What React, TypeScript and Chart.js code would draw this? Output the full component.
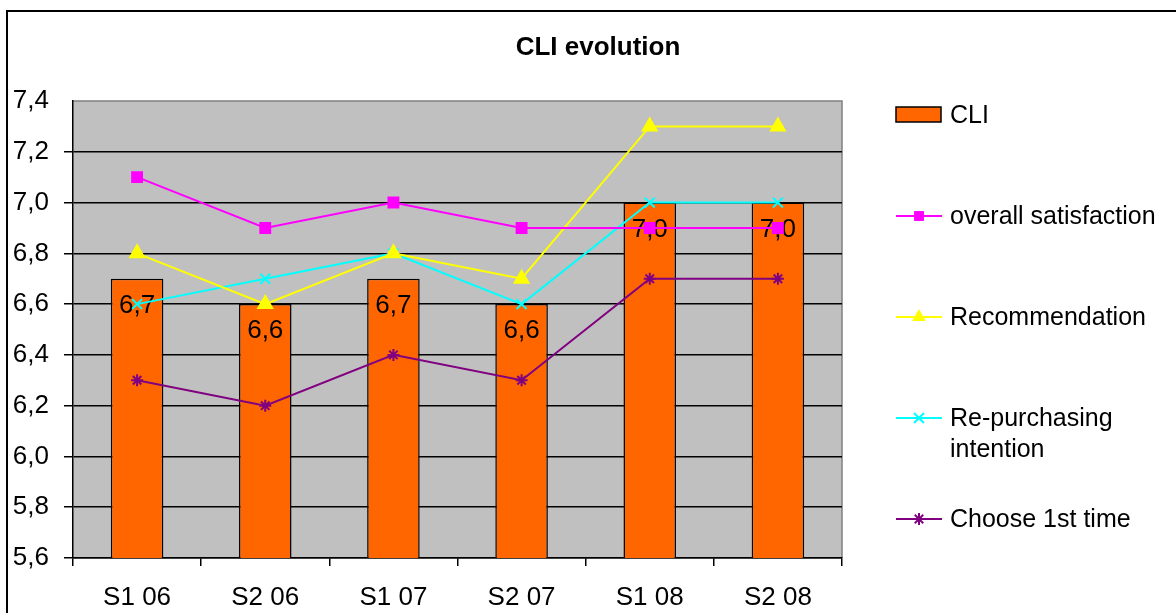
import React, { useEffect, useRef } from "react";
import { Chart, registerables } from "chart.js";

Chart.register(...registerables);

const chartTitle = "CLI evolution";
const categories = ["S1 06", "S2 06", "S1 07", "S2 07", "S1 08", "S2 08"];
const seriesNames = ["CLI", "overall satisfaction", "Recommendation", "Re-purchasing intention", "Choose 1st time"];
const cliValues = [6.7, 6.6, 6.7, 6.6, 7.0, 7.0];
const overallSatisfaction = [7.1, 6.9, 7.0, 6.9, 6.9, 6.9];
const recommendation = [6.8, 6.6, 6.8, 6.7, 7.3, 7.3];
const repurchasingIntention = [6.6, 6.7, 6.8, 6.6, 7.0, 7.0];
const chooseFirstTime = [6.3, 6.2, 6.4, 6.3, 6.7, 6.7];
const yMin = 5.6;
const yMax = 7.4;
const yStep = 0.2;

const FONT = "'Liberation Sans', Arial, sans-serif";
const fmt = (v: number) => v.toFixed(1).replace(".", ",");

function drawMarker(ctx: CanvasRenderingContext2D, style: string, x: number, y: number, r: number, color: string) {
  ctx.save();
  ctx.fillStyle = color;
  ctx.strokeStyle = color;
  ctx.lineWidth = 2;
  ctx.beginPath();
  if (style === "rect") {
    const s = r * Math.SQRT1_2;
    ctx.rect(x - s, y - s, 2 * s, 2 * s);
    ctx.fill();
  } else if (style === "triangle") {
    ctx.moveTo(x, y - r);
    ctx.lineTo(x + r * 0.866, y + r * 0.5);
    ctx.lineTo(x - r * 0.866, y + r * 0.5);
    ctx.closePath();
    ctx.fill();
  } else if (style === "crossRot") {
    const s = r * Math.SQRT1_2;
    ctx.moveTo(x - s, y - s);
    ctx.lineTo(x + s, y + s);
    ctx.moveTo(x - s, y + s);
    ctx.lineTo(x + s, y - s);
    ctx.stroke();
  } else if (style === "star") {
    const s = r * Math.SQRT1_2;
    ctx.moveTo(x - s, y - s);
    ctx.lineTo(x + s, y + s);
    ctx.moveTo(x - s, y + s);
    ctx.lineTo(x + s, y - s);
    ctx.moveTo(x, y - r);
    ctx.lineTo(x, y + r);
    ctx.moveTo(x - r, y);
    ctx.lineTo(x + r, y);
    ctx.stroke();
  }
  ctx.restore();
}

function wrapText(ctx: CanvasRenderingContext2D, text: string, maxW: number): string[] {
  const words = text.split(" ");
  const lines: string[] = [];
  let cur = "";
  for (const w of words) {
    const t = cur ? cur + " " + w : w;
    if (ctx.measureText(t).width > maxW && cur) {
      lines.push(cur);
      cur = w;
    } else cur = t;
  }
  if (cur) lines.push(cur);
  return lines;
}

const decorPlugin = {
  id: "decor",
  beforeDraw(chart: any) {
    const { ctx, chartArea: a, width, height } = chart;
    ctx.save();
    ctx.fillStyle = "#ffffff";
    ctx.fillRect(0, 0, width, height);
    ctx.fillStyle = "#C0C0C0";
    ctx.fillRect(a.left, a.top, a.right - a.left, a.bottom - a.top);
    ctx.strokeStyle = "#808080";
    ctx.lineWidth = 1.5;
    ctx.beginPath();
    ctx.moveTo(a.left, a.top);
    ctx.lineTo(a.right, a.top);
    ctx.lineTo(a.right, a.bottom);
    ctx.stroke();
    ctx.strokeStyle = "#000000";
    ctx.lineWidth = 2;
    ctx.strokeRect(7, 11, 1200, 700);
    ctx.restore();
  },
  afterDatasetDraw(chart: any, args: any) {
    if (args.index !== 0) return;
    const { ctx } = chart;
    const meta = chart.getDatasetMeta(0);
    ctx.save();
    ctx.font = `26px ${FONT}`;
    ctx.fillStyle = "#000";
    ctx.textAlign = "center";
    ctx.textBaseline = "middle";
    meta.data.forEach((bar: any, i: number) => {
      ctx.fillText(fmt(chart.data.datasets[0].data[i]), bar.x, bar.y + 27);
    });
    ctx.restore();
  },
  afterDraw(chart: any) {
    const { ctx } = chart;
    ctx.save();
    ctx.fillStyle = "#000";
    ctx.font = `bold 26px ${FONT}`;
    ctx.textAlign = "center";
    ctx.textBaseline = "middle";
    ctx.fillText(chartTitle, 598, 48);

    ctx.font = `25px ${FONT}`;
    ctx.textAlign = "left";
    chart.data.datasets.forEach((ds: any, i: number) => {
      const y = 115 + i * 101;
      if (ds.type === "bar" || !ds.type) {
        ctx.fillStyle = ds.backgroundColor;
        ctx.fillRect(896, y - 8, 45, 15);
        ctx.strokeStyle = "#000";
        ctx.lineWidth = 1.5;
        ctx.strokeRect(896, y - 8, 45, 15);
      } else {
        ctx.strokeStyle = ds.borderColor;
        ctx.lineWidth = 2;
        ctx.beginPath();
        ctx.moveTo(896, y);
        ctx.lineTo(942, y);
        ctx.stroke();
        drawMarker(ctx, ds.pointStyle, 919, y, ds.pointRadius, ds.borderColor);
      }
      ctx.fillStyle = "#000";
      const lines = wrapText(ctx, ds.label, 215);
      lines.forEach((ln, k) => ctx.fillText(ln, 950, y + 1 + k * 31));
    });
    ctx.restore();
  },
};

export default function App() {
  const ref = useRef<HTMLCanvasElement>(null);
  useEffect(() => {
    document.body.style.margin = "0";
    const lineDs = (label: string, data: number[], color: string, pointStyle: string, r: number) => ({
      type: "line" as const,
      label,
      data,
      borderColor: color,
      backgroundColor: color,
      borderWidth: 2,
      pointStyle,
      pointRadius: r,
      pointBorderWidth: 2,
      pointBorderColor: color,
      pointBackgroundColor: color,
      fill: false,
      tension: 0,
      order: 0,
    });
    const chart = new Chart(ref.current!, {
      type: "bar",
      data: {
        labels: categories,
        datasets: [
          {
            type: "bar",
            label: seriesNames[0],
            data: cliValues,
            backgroundColor: "#FF6600",
            borderColor: "#000000",
            borderWidth: 1.5,
            barPercentage: 0.41,
            categoryPercentage: 1,
            order: 1,
          } as any,
          lineDs(seriesNames[1], overallSatisfaction, "#FF00FF", "rect", 7),
          lineDs(seriesNames[2], recommendation, "#FFFF00", "triangle", 8),
          lineDs(seriesNames[3], repurchasingIntention, "#00FFFF", "crossRot", 7),
          lineDs(seriesNames[4], chooseFirstTime, "#800080", "star", 6),
        ],
      },
      options: {
        responsive: false,
        animation: false,
        layout: { padding: { left: 0, right: 334, top: 101, bottom: 0 } },
        plugins: { legend: { display: false }, title: { display: false }, tooltip: { enabled: false } },
        scales: {
          x: {
            offset: true,
            grid: { offset: true, drawOnChartArea: false, drawTicks: true, tickLength: 8, color: "#000", lineWidth: 1.5 },
            border: { color: "#000", width: 1.5 },
            ticks: { color: "#000", font: { size: 26, family: FONT }, padding: 16, maxRotation: 0 },
            afterFit: (s: any) => { s.height = 55; },
          },
          y: {
            min: yMin,
            max: yMax,
            grid: {
              color: (c: any) => (c.tick && c.tick.value > yMax - 0.01 ? "rgba(0,0,0,0)" : "#000"),
              lineWidth: 1.5,
              drawTicks: true,
              tickLength: 9,
            },
            border: { color: "#000", width: 1.5 },
            ticks: {
              stepSize: yStep,
              color: "#000",
              font: { size: 26, family: FONT },
              padding: 15,
              callback: (v: any) => fmt(Number(v)),
            },
            afterFit: (s: any) => { s.width = 73; },
          },
        },
      },
      plugins: [decorPlugin],
    } as any);
    return () => chart.destroy();
  }, []);
  return <canvas ref={ref} width={1176} height={613} style={{ display: "block" }} />;
}
